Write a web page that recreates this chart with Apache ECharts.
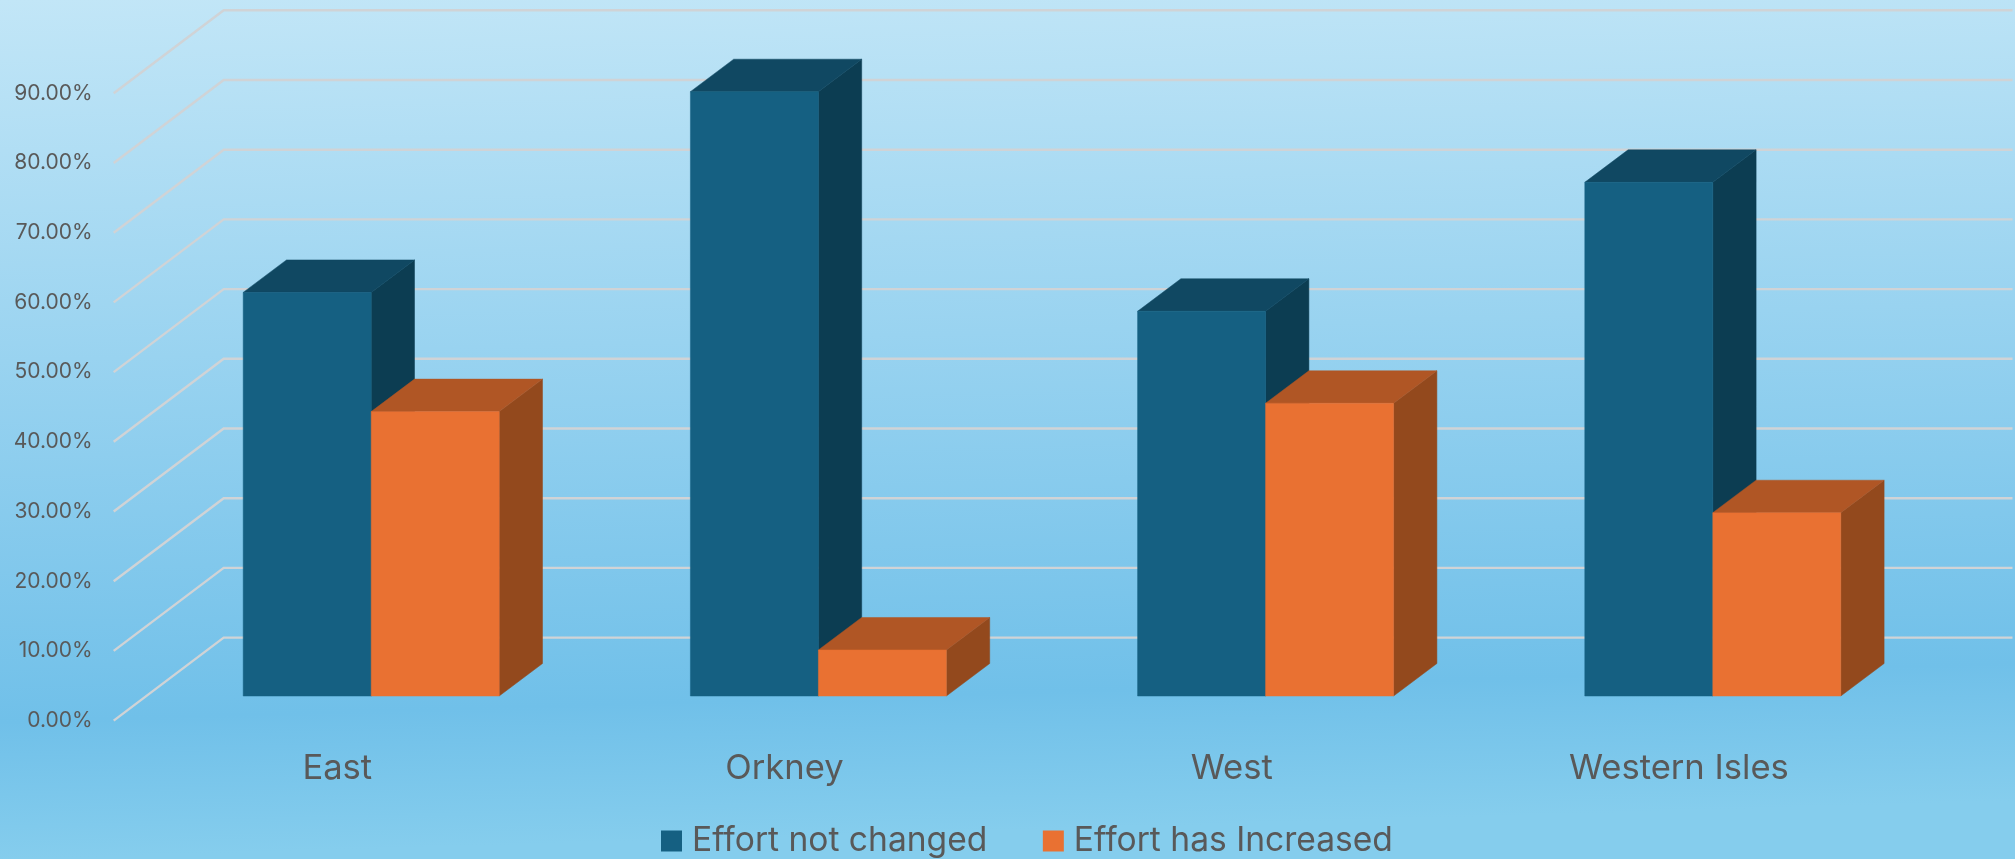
<!DOCTYPE html>
<html><head><meta charset="utf-8">
<style>html,body{margin:0;padding:0;overflow:hidden}#c{width:2015px;height:859px}</style>
<script src="https://cdn.jsdelivr.net/npm/echarts@6/dist/echarts.min.js"></script>
</head><body><div id="c"></div>
<script>
const categories = ['East', 'Orkney', 'West', 'Western Isles'];
const effortNotChanged = [57.9, 86.7, 55.2, 73.7];
const effortIncreased = [40.8, 6.6, 42.0, 26.3];
const axisTicks = [0, 10, 20, 30, 40, 50, 60, 70, 80, 90];
const seriesNames = ['Effort not changed', 'Effort has Increased'];

const FONT = 'Inter';
const TEXT = '#595959';
const WALL = { dx: 110, dy: 83 };
const BAR = { dx: 43.3, dy: 32.5, ratio: 128 / 447.2 };
const SKIN = [
  { front: '#156082', top: '#104862', side: '#0C3D52' },
  { front: '#E97132', top: '#B05625', side: '#93491D' }
];

function cuboid(params, api) {
  const i = api.value(0), v = api.value(1);
  const base = api.coord([i, 0]), top = api.coord([i, v]);
  const w = api.size([1, 0])[0] * BAR.ratio;
  const left = base[0] + (params.seriesIndex === 1 ? -w : 0);
  const right = left + w;
  const y0 = base[1], y1 = top[1], dx = BAR.dx, dy = BAR.dy;
  const skin = params.seriesIndex === 1 ? SKIN[0] : SKIN[1];
  const poly = (pts, fill) => ({ type: 'polygon', shape: { points: pts }, style: { fill: fill, stroke: fill, lineWidth: 0.5 } });
  return { type: 'group', children: [
    poly([[right, y0], [right + dx, y0 - dy], [right + dx, y1 - dy], [right, y1]], skin.side),
    poly([[left, y1], [left + dx, y1 - dy], [right + dx, y1 - dy], [right, y1]], skin.top),
    poly([[left, y0], [right, y0], [right, y1], [left, y1]], skin.front)
  ]};
}

function wallLine(params, api) {
  const cs = params.coordSys;
  const y = api.coord([0, api.value(1)])[1];
  const pts = [[cs.x, y], [cs.x + WALL.dx, y - WALL.dy], [cs.x + cs.width + WALL.dx, y - WALL.dy]];
  return { type: 'polyline', shape: { points: pts }, style: { stroke: '#D0D3D6', lineWidth: 2.4, fill: null } };
}

const chart = echarts.init(document.getElementById('c'), null, { renderer: 'canvas' });
chart.setOption({
  animation: false,
  backgroundColor: new echarts.graphic.LinearGradient(0, 0, 25, 859, [
    { offset: 0, color: '#C2E6F7' },
    { offset: 0.84, color: '#70C0E9' },
    { offset: 1, color: '#85CDED' }
  ], true),
  legend: {
    data: seriesNames, bottom: -4, left: 656, icon: 'rect',
    itemWidth: 21, itemHeight: 21, itemGap: 55.5,
    textStyle: { fontFamily: FONT, fontSize: 33.6, color: TEXT, padding: [0, 0, 0, 5] }
  },
  grid: [
    { left: 147.6, top: 68.7, width: 1788.8, height: 627.3 },
    { left: 113.7, top: 93.3, width: 1788.8, height: 627.3 }
  ],
  xAxis: [
    { type: 'category', gridIndex: 0, data: categories, show: false },
    { type: 'category', gridIndex: 1, data: categories,
      axisLine: { show: false }, axisTick: { show: false }, splitLine: { show: false },
      axisLabel: { fontFamily: FONT, fontSize: 34.6, color: TEXT, margin: 31 } }
  ],
  yAxis: [
    { type: 'value', gridIndex: 0, min: 0, max: 90, interval: 10, show: false },
    { type: 'value', gridIndex: 1, min: 0, max: 90, interval: 10,
      axisLine: { show: false }, axisTick: { show: false }, splitLine: { show: false },
      axisLabel: { fontFamily: FONT, fontSize: 21, color: TEXT, margin: 21, padding: [5, 0, 0, 0],
        formatter: v => v.toFixed(2) + '%' } }
  ],
  series: [
    { type: 'custom', name: 'wall', xAxisIndex: 1, yAxisIndex: 1, renderItem: wallLine, silent: true,
      data: axisTicks.map(v => [0, v]), encode: { x: 0, y: 1 }, z: 1 },
    { type: 'custom', name: seriesNames[0], xAxisIndex: 0, yAxisIndex: 0, renderItem: cuboid,
      itemStyle: { color: SKIN[0].front },
      data: effortNotChanged.map((v, i) => [i, v]), encode: { x: 0, y: 1 }, z: 2 },
    { type: 'custom', name: seriesNames[1], xAxisIndex: 0, yAxisIndex: 0, renderItem: cuboid,
      itemStyle: { color: SKIN[1].front },
      data: effortIncreased.map((v, i) => [i, v]), encode: { x: 0, y: 1 }, z: 3 }
  ]
});
</script></body></html>
